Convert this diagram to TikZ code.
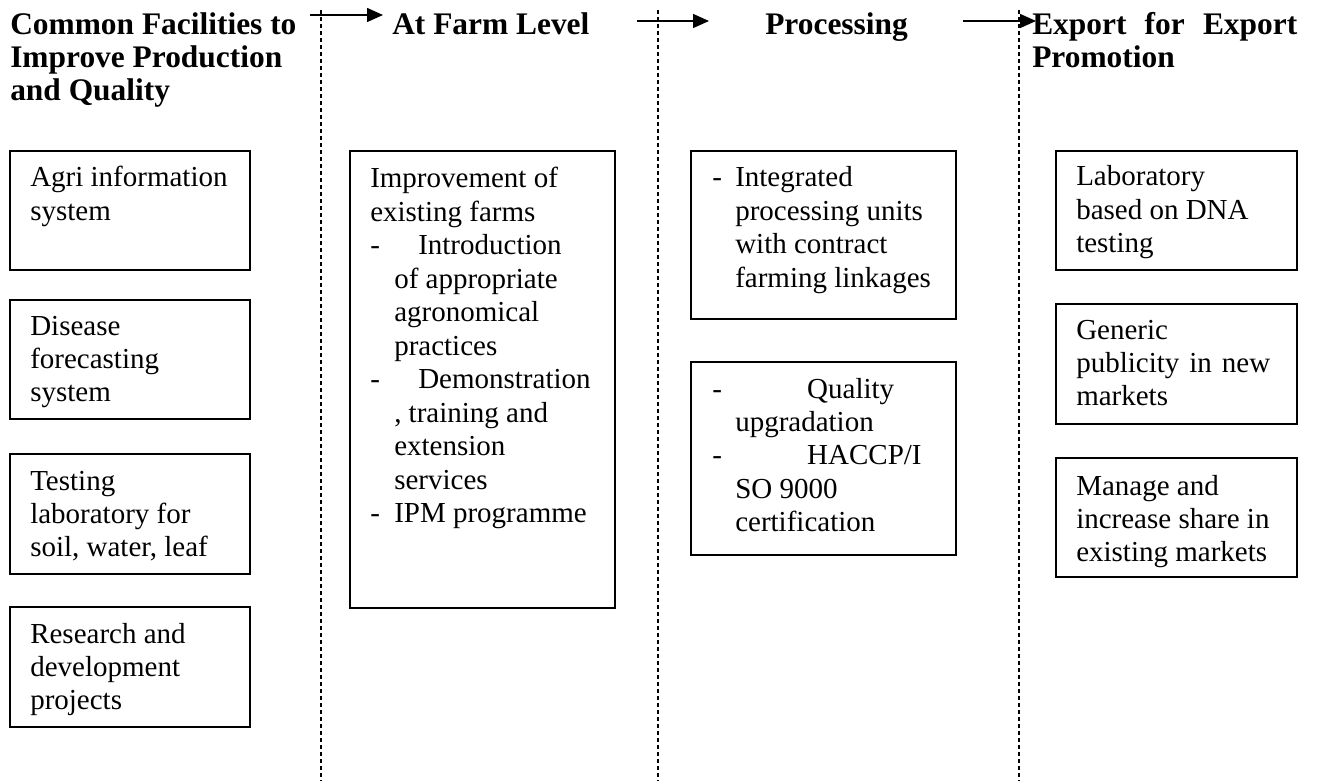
\documentclass[tikz,border=0pt]{standalone}
\usepackage{fontspec}
\setmainfont{Liberation Serif}
\usetikzlibrary{arrows.meta}
\begin{document}
\begin{tikzpicture}[x=0.75pt,y=-0.75pt,
 boxst/.style={draw, line width=1.2pt, anchor=north west, inner sep=0pt},
 txt/.style={anchor=base west, inner sep=0pt, font=\fontsize{21.75pt}{25.1pt}\selectfont},
 head/.style={anchor=base west, inner sep=0pt, font=\fontsize{23.56pt}{24.75pt}\selectfont\bfseries},
 sepline/.style={line width=1.1pt, dash pattern=on 3pt off 2.25pt},
 flow/.style={line width=1.1pt, -{Triangle[length=12pt,width=10.5pt]}}]
\useasboundingbox (0,0) rectangle (1318,781);

% separators
\foreach \n/\x in {s1/321, s2/658, s3/1019}{
  \coordinate (\n t) at (\x,10);
  \coordinate (\n b) at (\x,781);
  \draw[sepline] (\n t) -- (\n b);
}

% arrows
\coordinate (a1s) at (310,15);  \coordinate (a1e) at (383,15);
\coordinate (a2s) at (637,21);  \coordinate (a2e) at (709,21);
\coordinate (a3s) at (963,21);  \coordinate (a3e) at (1036,21);
\draw[flow] (a1s) -- (a1e);
\draw[flow] (a2s) -- (a2e);
\draw[flow] (a3s) -- (a3e);

% headings
\node[head] (hd1) at (10,35) {\begin{tabular}[t]{@{}l@{}}Common Facilities to\\Improve Production\\and Quality\end{tabular}};
\node[head] (hd2) at (392,35) {At Farm Level};
\node[head] (hd3) at (765,35) {Processing};
\node[head] (hd4) at (1032,35) {\begin{tabular}[t]{@{}l@{}}\makebox[198.75pt][l]{Export\hfill for\hfill Export}\\Promotion\end{tabular}};

% column 1
\node[boxst, minimum width=180pt, minimum height=89.25pt] (c1) at (9,150) {};
\node[boxst, minimum width=180pt, minimum height=89.25pt] (c2) at (9,299) {};
\node[boxst, minimum width=180pt, minimum height=90pt] (c3) at (9,453) {};
\node[boxst, minimum width=180pt, minimum height=90pt] (c4) at (9,606) {};
\node[txt] (c1t) at (30,187) {\begin{tabular}[t]{@{}l@{}}Agri information\\system\end{tabular}};
\node[txt] (c2t) at (30,335) {\begin{tabular}[t]{@{}l@{}}Disease\\forecasting\\system\end{tabular}};
\node[txt] (c3t) at (30,490) {\begin{tabular}[t]{@{}l@{}}Testing\\laboratory for\\soil, water, leaf\end{tabular}};
\node[txt] (c4t) at (30,643) {\begin{tabular}[t]{@{}l@{}}Research and\\development\\projects\end{tabular}};

% column 2
\node[boxst, minimum width=198.75pt, minimum height=342.75pt] (f1) at (349,150) {};
\node[txt] (f1t) at (370,188) {\begin{tabular}[t]{@{}l@{}}Improvement of\\existing farms\\
\makebox[36pt][l]{-}Introduction\\
\hspace*{18pt}of appropriate\\
\hspace*{18pt}agronomical\\
\hspace*{18pt}practices\\
\makebox[36pt][l]{-}Demonstration\\
\hspace*{18pt}, training and\\
\hspace*{18pt}extension\\
\hspace*{18pt}services\\
\makebox[18pt][l]{-}IPM programme\end{tabular}};

% column 3
\node[boxst, minimum width=198.75pt, minimum height=126pt] (p1) at (690,150) {};
\node[boxst, minimum width=198.75pt, minimum height=144.75pt] (p2) at (690,361) {};
\node[txt] (p1t) at (712,187) {\begin{tabular}[t]{@{}l@{}}\makebox[17.25pt][l]{-}Integrated\\
\hspace*{17.25pt}processing units\\
\hspace*{17.25pt}with contract\\
\hspace*{17.25pt}farming linkages\end{tabular}};
\node[txt] (p2t) at (712,398) {\begin{tabular}[t]{@{}l@{}}\makebox[71.25pt][l]{-}Quality\\
\hspace*{17.25pt}upgradation\\
\makebox[71.25pt][l]{-}HACCP/I\\
\hspace*{17.25pt}SO 9000\\
\hspace*{17.25pt}certification\end{tabular}};

% column 4
\node[boxst, minimum width=180.75pt, minimum height=89.25pt] (e1) at (1055,150) {};
\node[boxst, minimum width=180.75pt, minimum height=90pt] (e2) at (1055,303) {};
\node[boxst, minimum width=180.75pt, minimum height=89.25pt] (e3) at (1055,457) {};
\node[txt] (e1t) at (1076,186) {\begin{tabular}[t]{@{}l@{}}Laboratory\\based on DNA\\testing\end{tabular}};
\node[txt] (e2t) at (1076,339) {\begin{tabular}[t]{@{}l@{}}Generic\\\makebox[145.5pt][l]{publicity\hfill in\hfill new}\\markets\end{tabular}};
\node[txt] (e3t) at (1076,495) {\begin{tabular}[t]{@{}l@{}}Manage and\\increase share in\\existing markets\end{tabular}};
\end{tikzpicture}
\end{document}
